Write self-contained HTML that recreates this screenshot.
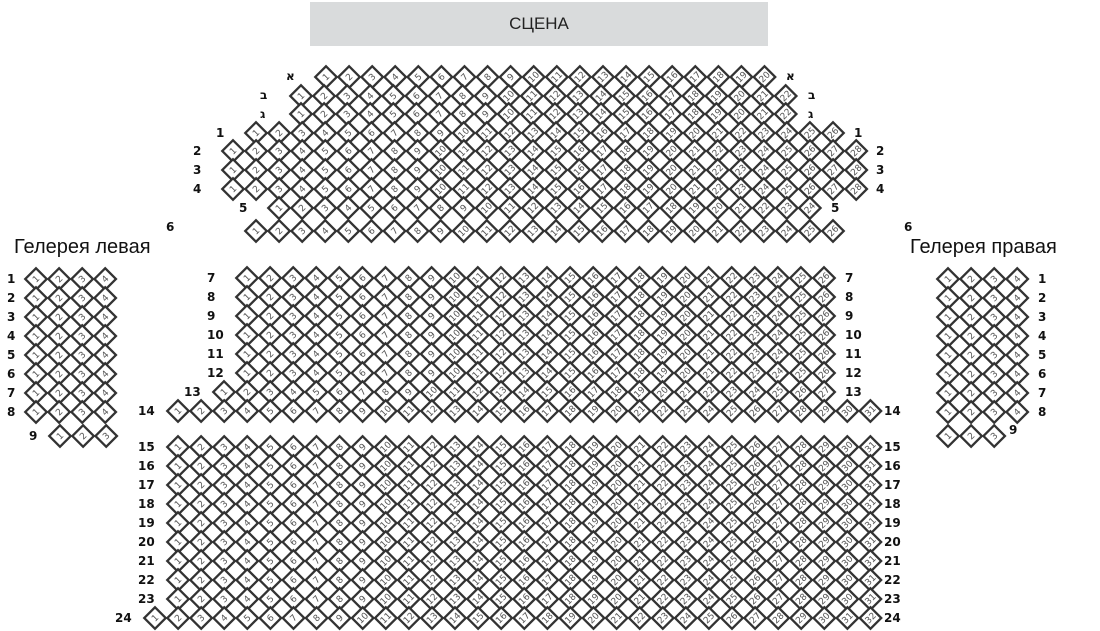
<!DOCTYPE html>
<html><head><meta charset="utf-8">
<style>
html,body{margin:0;padding:0;background:#fff;width:1100px;height:631px;overflow:hidden;position:relative;font-family:"Liberation Sans","DejaVu Sans",sans-serif}
#stage{position:absolute;left:310px;top:2px;width:458px;height:44px;background:#d9dbdc;color:#222;font-size:17px;line-height:44px;text-align:center}
.h{position:absolute;font-size:20px;color:#111}
svg{position:absolute;left:0;top:0}
.l{font-family:"DejaVu Sans","Liberation Sans",sans-serif;font-weight:bold;font-size:12px;fill:#111}
.n{font-family:"DejaVu Sans",sans-serif;font-size:9px;fill:#555}
</style></head><body>
<div id="stage">СЦЕНА</div>
<div class="h" style="left:14px;top:236px">Гелерея левая</div>
<div class="h" style="left:910px;top:236px">Гелерея правая</div>
<svg id="s" width="1100" height="631" xmlns="http://www.w3.org/2000/svg">
<g id="labels">
<text class="l" x="286" y="80">א</text><text class="l" x="786" y="80">א</text>
<text class="l" x="260" y="99">ב</text><text class="l" x="808" y="99">ב</text>
<text class="l" x="260" y="118">ג</text><text class="l" x="808" y="118">ג</text>
<text class="l" x="216" y="137">1</text><text class="l" x="854" y="137">1</text>
<text class="l" x="193" y="155">2</text><text class="l" x="876" y="155">2</text>
<text class="l" x="193" y="174">3</text><text class="l" x="876" y="174">3</text>
<text class="l" x="193" y="193">4</text><text class="l" x="876" y="193">4</text>
<text class="l" x="239" y="212">5</text><text class="l" x="831" y="212">5</text>
<text class="l" x="166" y="231">6</text><text class="l" x="904" y="231">6</text>
<text class="l" x="207" y="282">7</text><text class="l" x="845" y="282">7</text>
<text class="l" x="207" y="301">8</text><text class="l" x="845" y="301">8</text>
<text class="l" x="207" y="320">9</text><text class="l" x="845" y="320">9</text>
<text class="l" x="207" y="339">10</text><text class="l" x="845" y="339">10</text>
<text class="l" x="207" y="358">11</text><text class="l" x="845" y="358">11</text>
<text class="l" x="207" y="377">12</text><text class="l" x="845" y="377">12</text>
<text class="l" x="184" y="396">13</text><text class="l" x="845" y="396">13</text>
<text class="l" x="138" y="415">14</text><text class="l" x="884" y="415">14</text>
<text class="l" x="138" y="451">15</text><text class="l" x="884" y="451">15</text>
<text class="l" x="138" y="470">16</text><text class="l" x="884" y="470">16</text>
<text class="l" x="138" y="489">17</text><text class="l" x="884" y="489">17</text>
<text class="l" x="138" y="508">18</text><text class="l" x="884" y="508">18</text>
<text class="l" x="138" y="527">19</text><text class="l" x="884" y="527">19</text>
<text class="l" x="138" y="546">20</text><text class="l" x="884" y="546">20</text>
<text class="l" x="138" y="565">21</text><text class="l" x="884" y="565">21</text>
<text class="l" x="138" y="584">22</text><text class="l" x="884" y="584">22</text>
<text class="l" x="138" y="603">23</text><text class="l" x="884" y="603">23</text>
<text class="l" x="115" y="622">24</text><text class="l" x="884" y="622">24</text>
<text class="l" x="7" y="283">1</text><text class="l" x="1038" y="283">1</text>
<text class="l" x="7" y="302">2</text><text class="l" x="1038" y="302">2</text>
<text class="l" x="7" y="321">3</text><text class="l" x="1038" y="321">3</text>
<text class="l" x="7" y="340">4</text><text class="l" x="1038" y="340">4</text>
<text class="l" x="7" y="359">5</text><text class="l" x="1038" y="359">5</text>
<text class="l" x="7" y="378">6</text><text class="l" x="1038" y="378">6</text>
<text class="l" x="7" y="397">7</text><text class="l" x="1038" y="397">7</text>
<text class="l" x="7" y="416">8</text><text class="l" x="1038" y="416">8</text>
<text class="l" x="29" y="440">9</text><text class="l" x="1009" y="434">9</text>
</g>
<g id="seats"></g>
</svg>
<script>
var rows=[
[77,326,20],[96,301,22],[114,301,22],[133,256,26],[151,233,28],[170,233,28],[189,233,28],[208,279,24],[231,256,26],
[278,247,26],[297,247,26],[316,247,26],[335,247,26],[354,247,26],[373,247,26],[392,224,27],[411,178,31],
[447,178,31],[466,178,31],[485,178,31],[504,178,31],[523,178,31],[542,178,31],[561,178,31],[580,178,31],[599,178,31],[618,155,32]
];
for(var i=0;i<8;i++){rows.push([279+i*19,36,4]);rows.push([279+i*19,948,4]);}
rows.push([436,60,3]);rows.push([436,948,3]);
var sp=23.08,h='';
rows.forEach(function(r){
 for(var k=0;k<r[2];k++){
  var x=(r[1]+k*sp).toFixed(1),y=r[0];
  h+='<g transform="translate('+x+','+y+')"><rect x="-7.6" y="-7.6" width="15.2" height="15.2" transform="rotate(45)" fill="#fff" stroke="#333" stroke-width="2.3"/><text class="n" transform="rotate(-45)" text-anchor="middle" y="3">'+(k+1)+'</text></g>';
 }
});
document.getElementById('seats').innerHTML=h;
</script>
</body></html>
